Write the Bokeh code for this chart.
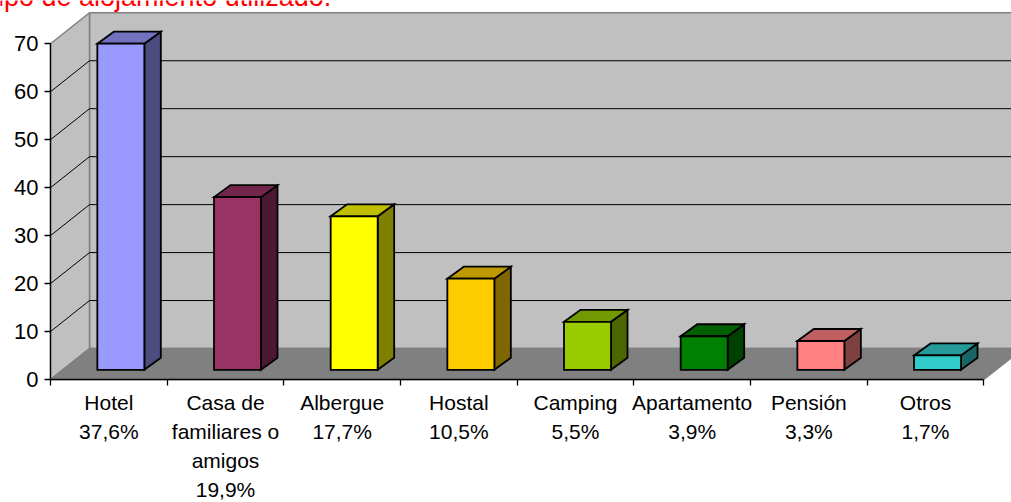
from bokeh.plotting import figure
from bokeh.models import FixedTicker, LinearAxis, Range1d, Label
from bokeh.embed import file_html
from bokeh.resources import INLINE

# ---------------- data ----------------
categories = ["Hotel", "Casa de\nfamiliares o\namigos", "Albergue", "Hostal",
              "Camping", "Apartamento", "Pensión", "Otros"]
percentages = ["37,6%", "19,9%", "17,7%", "10,5%", "5,5%", "3,9%", "3,3%", "1,7%"]
counts = [68, 36, 32, 19, 10, 7, 6, 3]
bar_colors = ["#9999FF", "#993366", "#FFFF00", "#FFCC00",
              "#99CC00", "#008000", "#FF8080", "#33CCCC"]
y_ticks = [0, 10, 20, 30, 40, 50, 60, 70]
title_text = "Tipo de alojamiento utilizado."

# ---------------- layout constants (pixels) ----------------
W, H = 1011, 502
AXIS_X_PX = 50        # screen x of the value axis
AXIS_Y_PX = 379       # screen y of the category axis
PX_X = 116.67         # pixels per category
PX_Y = 4.796          # pixels per value unit

WALL_DX, WALL_DY = 39 / PX_X, 31 / PX_Y          # depth of floor / side wall
BAR_FX, BAR_FY = 12 / PX_X, 9.7 / PX_Y           # bar front-plane offset
BAR_DX, BAR_DY = 16.5 / PX_X, 12 / PX_Y          # bar depth
BAR_HW = 23.5 / PX_X                             # half width of bar front face


def shade(hex_color, f):
    h = hex_color.lstrip("#")
    r, g, b = (int(h[i:i + 2], 16) for i in (0, 2, 4))
    return "#%02X%02X%02X" % (int(r * f), int(g * f), int(b * f))


n = len(categories)
x0 = -0.5
x8 = n - 0.5
ymax = y_ticks[-1]


def xd(px):
    return x0 + (px - AXIS_X_PX) / PX_X


def yd(py):
    return (AXIS_Y_PX - py) / PX_Y


xstart, xend = xd(0), xd(W)
ystart, yend = yd(H), yd(0)

p = figure(width=W, height=H,
           x_range=Range1d(xstart, xend), y_range=Range1d(ystart, yend),
           min_border_left=0, min_border_top=0, min_border_right=0,
           min_border_bottom=0, x_axis_type=None, y_axis_type=None,
           output_backend="svg", toolbar_location=None)
p.outline_line_color = None
p.background_fill_color = "white"
p.border_fill_color = "white"

WALL = "#C0C0C0"
FLOOR = "#808080"
EDGE = "#808080"

# back wall
p.quad(left=x0 + WALL_DX, right=xend + 1, bottom=WALL_DY, top=ymax + WALL_DY,
       fill_color=WALL, line_color=EDGE, line_width=1.5)
# side wall
p.patch([x0, x0, x0 + WALL_DX, x0 + WALL_DX], [0, ymax, ymax + WALL_DY, WALL_DY],
        fill_color=WALL, line_color=EDGE, line_width=1.5)
# floor
p.patch([x0, x8, x8 + WALL_DX, xend + 1, xend + 1, x0 + WALL_DX],
        [0, 0, WALL_DY, WALL_DY, WALL_DY, WALL_DY],
        fill_color=FLOOR, line_color=EDGE, line_width=1.5)

# gridlines
gv = y_ticks[1:-1]
p.segment(x0=[x0] * len(gv), y0=gv, x1=[x0 + WALL_DX] * len(gv),
          y1=[v + WALL_DY for v in gv], line_color="black", line_width=1)
p.segment(x0=[x0 + WALL_DX] * len(gv), y0=[v + WALL_DY for v in gv],
          x1=[xend + 1] * len(gv), y1=[v + WALL_DY for v in gv],
          line_color="black", line_width=1)

# bars
lefts = [i - BAR_HW + BAR_FX for i in range(n)]
rights = [i + BAR_HW + BAR_FX for i in range(n)]
side_xs, side_ys, top_xs, top_ys = [], [], [], []
for L, R, v in zip(lefts, rights, counts):
    b = BAR_FY
    t = BAR_FY + v
    side_xs.append([R, R + BAR_DX, R + BAR_DX, R])
    side_ys.append([b, b + BAR_DY, t + BAR_DY, t])
    top_xs.append([L, L + BAR_DX, R + BAR_DX, R])
    top_ys.append([t, t + BAR_DY, t + BAR_DY, t])

p.patches(side_xs, side_ys, fill_color=[shade(c, 0.5) for c in bar_colors],
          line_color="black", line_width=1.8, line_join="miter")
p.patches(top_xs, top_ys, fill_color=[shade(c, 0.75) for c in bar_colors],
          line_color="black", line_width=1.8, line_join="miter")
p.quad(left=lefts, right=rights, bottom=[BAR_FY] * n,
       top=[BAR_FY + v for v in counts], fill_color=bar_colors,
       line_color="black", line_width=1.8, line_join="miter")

# axes (fixed at the front plane of the 3-D box)
yaxis = LinearAxis(ticker=FixedTicker(ticks=y_ticks), bounds=(0, ymax),
                   fixed_location=x0,
                   major_tick_out=6, major_tick_in=0,
                   minor_tick_out=0, minor_tick_in=0,
                   axis_line_color="black", axis_line_width=1.3,
                   major_tick_line_color="black", major_tick_line_width=1.3,
                   major_label_text_font="Liberation Sans",
                   major_label_text_font_size="22px",
                   major_label_text_color="black",
                   major_label_standoff=6)
p.add_layout(yaxis, "left")

xaxis = LinearAxis(ticker=FixedTicker(ticks=list(range(n)),
                                      minor_ticks=[i - 0.5 for i in range(n + 1)]),
                   bounds=(x0, x8), fixed_location=0,
                   major_tick_out=0, major_tick_in=0,
                   minor_tick_out=6, minor_tick_in=0,
                   minor_tick_line_color="black", minor_tick_line_width=1.3,
                   axis_line_color="black", axis_line_width=1.3,
                   major_label_overrides={i: f"{c}\n{pc}" for i, (c, pc) in
                                          enumerate(zip(categories, percentages))},
                   major_label_text_font="Liberation Sans",
                   major_label_text_font_size="21px",
                   major_label_text_line_height=1.27,
                   major_label_text_color="black",
                   major_label_standoff=5)
p.add_layout(xaxis, "below")

# title (clipped at the top of the picture, as in the original)
title = Label(x=xd(-18), y=yd(-4),
              text=title_text, text_color="#FF0000",
              text_font="Liberation Sans", text_font_size="27px",
              text_baseline="alphabetic", text_align="left")
p.add_layout(title)

html = file_html(p, INLINE, title="Tipo de alojamiento")
html = html.replace("<head>", "<head><style>html,body{margin:0;padding:0;overflow:hidden;}</style>", 1)
open("out.html", "w").write(html)
